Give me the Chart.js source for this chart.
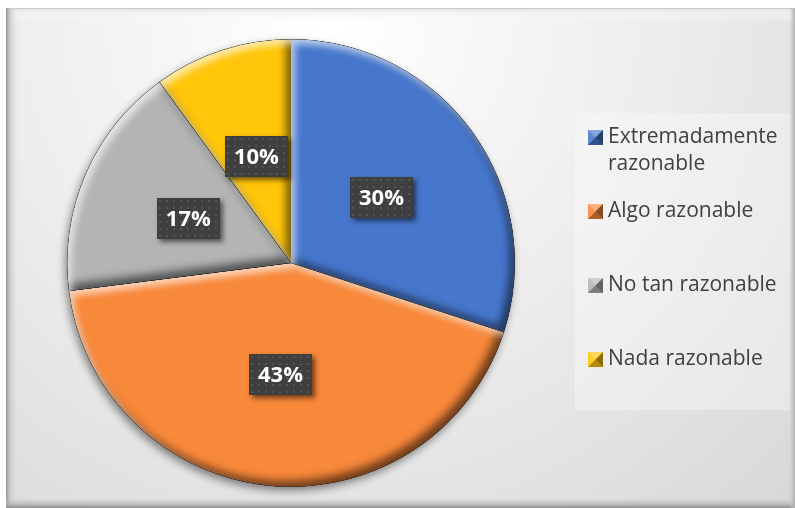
<!DOCTYPE html>
<html>
<head>
<meta charset="utf-8">
<script src="https://cdn.jsdelivr.net/npm/chart.js@4"></script>
<style>
  html, body { margin: 0; padding: 0; background: #ffffff; }
  #wrap { width: 795px; height: 508px; }
</style>
</head>
<body>
<div id="wrap"><canvas id="c" width="795" height="508"></canvas></div>
<script>
// Survey answers and their shares (percent)
const categories = ['Extremadamente razonable', 'Algo razonable', 'No tan razonable', 'Nada razonable'];
const shares = [30, 43, 17, 10];
const sliceColors = ['#4677cd', '#f8883a', '#b4b4b4', '#ffc60a'];

const FONT = '"Open Sans", "DejaVu Sans", sans-serif';

// Panel background with a soft bevelled frame
const panelBackground = {
  id: 'panelBackground',
  beforeDraw(chart) {
    const ctx = chart.ctx;
    const W = chart.width, H = chart.height;
    ctx.save();
    ctx.fillStyle = '#ffffff';
    ctx.fillRect(0, 0, W, H);
    const x0 = 6, y0 = 8;
    const g = ctx.createRadialGradient(330, 20, 10, 330, 20, 760);
    g.addColorStop(0, '#ffffff');
    g.addColorStop(0.45, '#ececec');
    g.addColorStop(1, '#d2d2d2');
    ctx.fillStyle = g;
    ctx.fillRect(x0, y0, W - x0, H - y0);
    // top bevel
    let b = ctx.createLinearGradient(0, y0, 0, y0 + 14);
    b.addColorStop(0, 'rgba(190,190,190,1)');
    b.addColorStop(0.12, 'rgba(235,235,235,1)');
    b.addColorStop(1, 'rgba(255,255,255,0)');
    ctx.fillStyle = b;
    ctx.fillRect(x0, y0, W - x0, 14);
    // left bevel
    b = ctx.createLinearGradient(x0, 0, x0 + 12, 0);
    b.addColorStop(0, 'rgba(150,150,150,1)');
    b.addColorStop(0.35, 'rgba(200,200,200,0.8)');
    b.addColorStop(1, 'rgba(220,220,220,0)');
    ctx.fillStyle = b;
    ctx.fillRect(x0, y0, 12, H - y0);
    // bottom bevel
    b = ctx.createLinearGradient(0, H - 10, 0, H);
    b.addColorStop(0, 'rgba(200,200,200,0)');
    b.addColorStop(0.7, 'rgba(170,170,170,0.8)');
    b.addColorStop(1, 'rgba(140,140,140,1)');
    ctx.fillStyle = b;
    ctx.fillRect(x0, H - 10, W - x0, 10);
    // right bevel
    b = ctx.createLinearGradient(W - 6, 0, W, 0);
    b.addColorStop(0, 'rgba(200,200,200,0)');
    b.addColorStop(1, 'rgba(175,175,175,1)');
    ctx.fillStyle = b;
    ctx.fillRect(W - 6, y0, 6, H - y0);
    // legend panel
    ctx.fillStyle = 'rgba(255,255,255,0.32)';
    ctx.fillRect(575, 113, 215, 297);
    ctx.restore();
  }
};

function arcPath(ctx, a) {
  ctx.moveTo(a.x, a.y);
  ctx.arc(a.x, a.y, a.outerRadius, a.startAngle, a.endAngle);
  ctx.closePath();
}

function innerShade(ctx, a, color, dx, dy, blur) {
  ctx.save();
  ctx.beginPath();
  arcPath(ctx, a);
  ctx.clip();
  ctx.beginPath();
  ctx.rect(a.x - 2000, a.y - 2000, 4000, 4000);
  arcPath(ctx, a);
  ctx.shadowColor = color;
  ctx.shadowBlur = blur;
  ctx.shadowOffsetX = dx;
  ctx.shadowOffsetY = dy;
  ctx.fillStyle = '#000';
  ctx.fill('evenodd');
  ctx.restore();
}

// Drop shadow under the pie and bevel shading on each slice
const pieBevel = {
  id: 'pieBevel',
  beforeDatasetsDraw(chart) {
    const arcs = chart.getDatasetMeta(0).data;
    if (!arcs.length) return;
    const a = arcs[0];
    const ctx = chart.ctx;
    ctx.save();
    ctx.beginPath();
    ctx.arc(a.x, a.y, a.outerRadius, 0, Math.PI * 2);
    ctx.shadowColor = 'rgba(0,0,0,0.45)';
    ctx.shadowBlur = 9;
    ctx.shadowOffsetX = -2;
    ctx.shadowOffsetY = 4;
    ctx.fillStyle = '#888';
    ctx.fill();
    ctx.restore();
  },
  afterDatasetsDraw(chart) {
    const ctx = chart.ctx;
    chart.getDatasetMeta(0).data.forEach(el => {
      const a = el.getProps(['x', 'y', 'startAngle', 'endAngle', 'outerRadius'], true);
      innerShade(ctx, a, 'rgba(0,0,0,0.55)', -5, -6, 8);
      innerShade(ctx, a, 'rgba(255,255,255,0.65)', 4, 5, 7);
    });
  }
};

// Percentage labels in dark dotted boxes
function dotPattern(ctx) {
  const p = document.createElement('canvas');
  p.width = 7; p.height = 7;
  const c = p.getContext('2d');
  c.fillStyle = '#3f3f3f';
  c.fillRect(0, 0, 7, 7);
  c.fillStyle = '#545454';
  c.fillRect(2, 2, 2, 2);
  return ctx.createPattern(p, 'repeat');
}

const valueLabels = {
  id: 'valueLabels',
  afterDatasetsDraw(chart) {
    const ctx = chart.ctx;
    const pattern = dotPattern(ctx);
    const data = chart.data.datasets[0].data;
    chart.getDatasetMeta(0).data.forEach((el, i) => {
      const pos = el.tooltipPosition();
      const w = 63, h = 41;
      const bx = Math.round(pos.x - w / 2), by = Math.round(pos.y - h / 2);
      ctx.save();
      ctx.shadowColor = 'rgba(0,0,0,0.55)';
      ctx.shadowBlur = 5;
      ctx.shadowOffsetX = 3;
      ctx.shadowOffsetY = 3;
      ctx.fillStyle = '#3f3f3f';
      ctx.fillRect(bx, by, w, h);
      ctx.restore();
      ctx.save();
      ctx.fillStyle = pattern;
      ctx.translate(bx, by);
      ctx.fillRect(0, 0, w, h);
      ctx.restore();
      ctx.save();
      ctx.font = 'bold 22px ' + FONT;
      ctx.fillStyle = '#ffffff';
      ctx.textAlign = 'center';
      ctx.textBaseline = 'middle';
      ctx.fillText(data[i] + '%', pos.x, pos.y + 1);
      ctx.restore();
    });
  }
};

// Legend on the right with bevelled square markers
function wrapText(ctx, text, maxW) {
  const words = text.split(' ');
  const lines = [];
  let cur = '';
  words.forEach(wd => {
    const t = cur ? cur + ' ' + wd : wd;
    if (ctx.measureText(t).width > maxW && cur) { lines.push(cur); cur = wd; }
    else cur = t;
  });
  if (cur) lines.push(cur);
  return lines;
}

function bevelMarker(ctx, x, y, s, color) {
  ctx.save();
  ctx.fillStyle = color;
  ctx.fillRect(x, y, s, s);
  const c = s / 2;
  ctx.fillStyle = 'rgba(255,255,255,0.35)';
  ctx.beginPath(); ctx.moveTo(x, y); ctx.lineTo(x + s, y); ctx.lineTo(x + c, y + c); ctx.closePath(); ctx.fill();
  ctx.fillStyle = 'rgba(255,255,255,0.12)';
  ctx.beginPath(); ctx.moveTo(x, y); ctx.lineTo(x + c, y + c); ctx.lineTo(x, y + s); ctx.closePath(); ctx.fill();
  ctx.fillStyle = 'rgba(0,0,0,0.45)';
  ctx.beginPath(); ctx.moveTo(x + s, y); ctx.lineTo(x + s, y + s); ctx.lineTo(x + c, y + c); ctx.closePath(); ctx.fill();
  ctx.fillStyle = 'rgba(0,0,0,0.3)';
  ctx.beginPath(); ctx.moveTo(x, y + s); ctx.lineTo(x + s, y + s); ctx.lineTo(x + c, y + c); ctx.closePath(); ctx.fill();
  ctx.restore();
}

const sideLegend = {
  id: 'sideLegend',
  afterDraw(chart) {
    const ctx = chart.ctx;
    const labels = chart.data.labels;
    const colors = chart.data.datasets[0].backgroundColor;
    ctx.save();
    ctx.font = '21px ' + FONT;
    ctx.fillStyle = '#404040';
    ctx.textBaseline = 'middle';
    ctx.textAlign = 'left';
    labels.forEach((lab, i) => {
      const cy = 137 + i * 74;
      bevelMarker(ctx, 588, cy - 7, 15, colors[i]);
      const lines = wrapText(ctx, lab, 182);
      lines.forEach((ln, k) => ctx.fillText(ln, 608, cy + k * 27));
    });
    ctx.restore();
  }
};

new Chart(document.getElementById('c'), {
  type: 'pie',
  data: {
    labels: categories,
    datasets: [{
      data: shares,
      backgroundColor: sliceColors,
      borderColor: 'rgba(60,60,60,0.35)',
      borderWidth: 0.5
    }]
  },
  options: {
    responsive: false,
    animation: false,
    devicePixelRatio: 1,
    layout: { padding: { left: 67, right: 280, top: 39, bottom: 21 } },
    plugins: {
      legend: { display: false },
      tooltip: { enabled: false },
      title: { display: false }
    }
  },
  plugins: [panelBackground, pieBevel, valueLabels, sideLegend]
});
</script>
</body>
</html>
